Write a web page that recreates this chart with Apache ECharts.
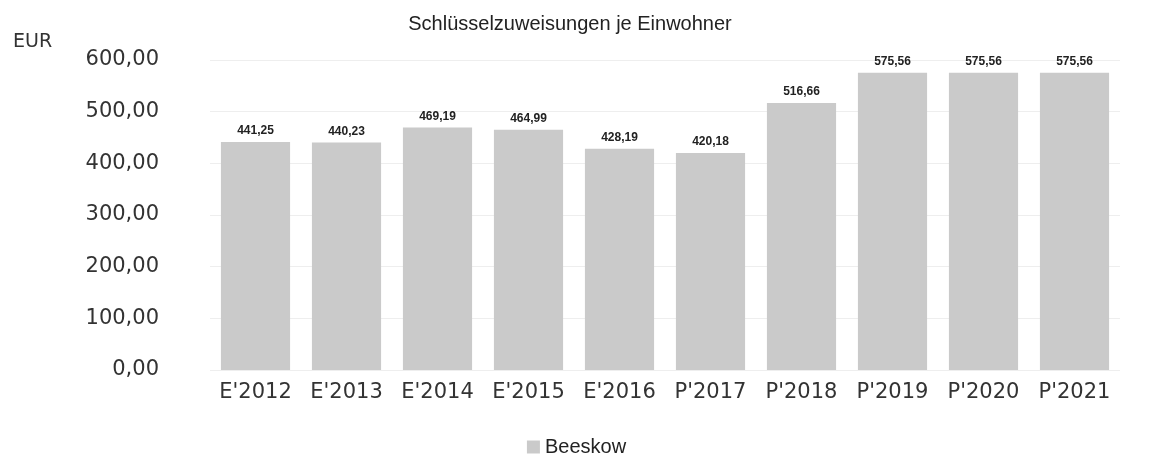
<!DOCTYPE html>
<html><head><meta charset="utf-8">
<script src="https://cdn.jsdelivr.net/npm/echarts@6/dist/echarts.min.js"></script>
<style>html,body{margin:0;padding:0;background:#fff}#c{width:1153px;height:458px}</style>
</head><body><div id="c"></div>
<script>
const categories = ["E'2012","E'2013","E'2014","E'2015","E'2016","P'2017","P'2018","P'2019","P'2020","P'2021"];
const values = [441.25, 440.23, 469.19, 464.99, 428.19, 420.18, 516.66, 575.56, 575.56, 575.56];
const seriesName = "Beeskow";
const title = "Schlüsselzuweisungen je Einwohner";
const unit = "EUR";
const fmt = v => Number(v).toFixed(2).replace('.', ',');
const chart = echarts.init(document.getElementById('c'));
chart.setOption({
  animation: false,
  backgroundColor: '#fff',
  title: { text: title, left: 565, top: 9, textAlign: 'center', textStyle: { fontFamily: 'Liberation Sans', fontSize: 20, fontWeight: 'normal', color: '#222' } },
  graphic: [{ type: 'text', left: 13, top: 33, style: { text: unit, fontFamily: 'DejaVu Sans', fontSize: 19, fill: '#333' } }],
  legend: { top: 432, left: 'center', itemWidth: 13, itemHeight: 13, icon: 'rect', itemGap: 12,
    textStyle: { fontFamily: 'Liberation Sans', fontSize: 20, color: '#222' } },
  grid: { left: 210, right: 33, top: 60, bottom: 88, containLabel: false },
  xAxis: { type: 'category', data: categories,
    axisLine: { show: false }, axisTick: { show: false },
    axisLabel: { interval: 0, hideOverlap: false, margin: 12, fontFamily: 'DejaVu Sans', fontSize: 21, color: '#333' } },
  yAxis: { type: 'value', min: 0, max: 600, interval: 100,
    axisLine: { show: false }, axisTick: { show: false },
    splitLine: { lineStyle: { color: '#eeeeee', width: 1 } },
    axisLabel: { margin: 51, fontFamily: 'DejaVu Sans', fontSize: 21, color: '#333', formatter: fmt } },
  series: [{ name: seriesName, type: 'bar', data: values, barWidth: '76%',
    itemStyle: { color: '#cacaca' },
    label: { show: true, position: 'top', distance: 5, fontFamily: 'Liberation Sans', fontSize: 12, fontWeight: 'bold', color: '#222', formatter: p => fmt(p.value) } }]
});
</script></body></html>
